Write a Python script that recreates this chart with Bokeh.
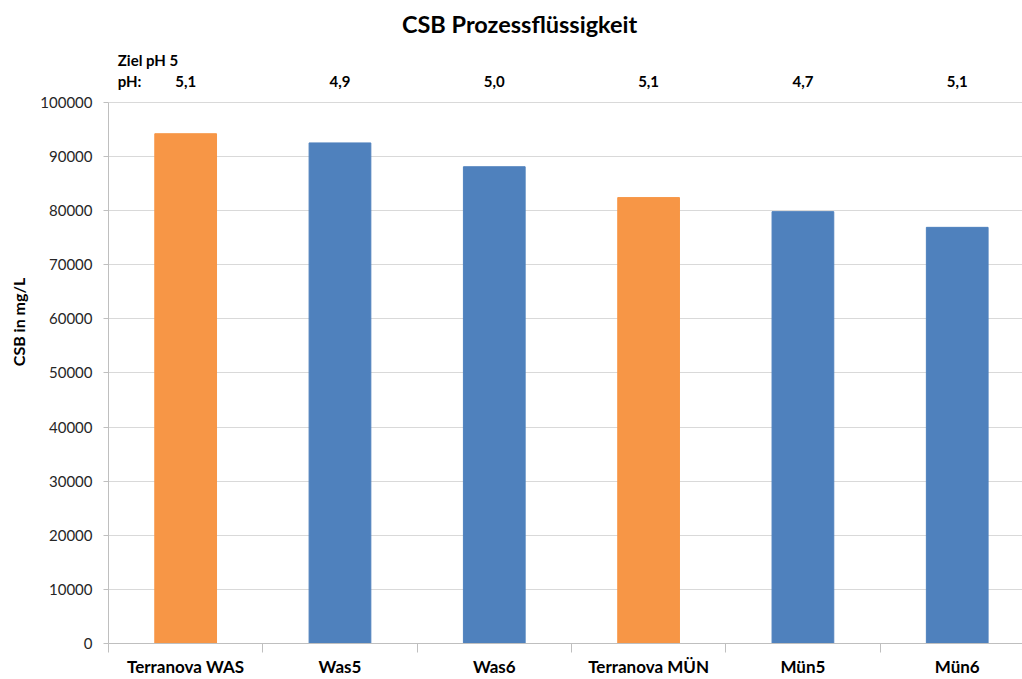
from bokeh.plotting import figure
from bokeh.models import Range1d, FixedTicker, ColumnDataSource, BasicTickFormatter
from bokeh.core.properties import value
from bokeh.embed import file_html
from bokeh.resources import INLINE

# Data
categories = ["Terranova WAS", "Was5", "Was6", "Terranova MÜN", "Mün5", "Mün6"]
csb_mg_l = [94200, 92500, 88100, 82400, 79800, 76900]
ph_values = ["5,1", "4,9", "5,0", "5,1", "4,7", "5,1"]
bar_colors = ["#F79646", "#4F81BD", "#4F81BD", "#F79646", "#4F81BD", "#4F81BD"]
y_ticks = list(range(0, 100001, 10000))
y_max = 100000

FONT = "Lato"
TEXT = "#262626"

centers = [i + 0.5 for i in range(len(categories))]
boundaries = list(range(len(categories)))

src = ColumnDataSource(dict(x=centers, top=csb_mg_l, color=bar_colors))

# the frame reaches the top of the canvas so the header texts can sit above
# the 100000 line; the axis itself stops at y_max
frame_h = 644
p = figure(width=1022, height=679, output_backend="svg", toolbar_location=None,
           x_range=Range1d(0, 5.923),
           y_range=Range1d(0, y_max * frame_h / (frame_h - 102)),
           min_border_left=108, min_border_right=0, min_border_top=0,
           min_border_bottom=0)
p.outline_line_color = None
p.background_fill_color = "white"
p.border_fill_color = "white"

p.vbar(x="x", top="top", width=0.4, color="color", source=src)

# y axis
p.yaxis.bounds = (0, y_max)
p.yaxis.ticker = FixedTicker(ticks=y_ticks)
p.yaxis.formatter = BasicTickFormatter(use_scientific=False)
p.yaxis.axis_line_color = "#bfbfbf"
p.yaxis.major_tick_line_color = "#bfbfbf"
p.yaxis.major_tick_out = 5
p.yaxis.major_tick_in = 0
p.yaxis.minor_tick_line_color = None
p.yaxis.major_label_text_font = FONT
p.yaxis.major_label_text_font_size = "15px"
p.yaxis.major_label_text_color = TEXT
p.yaxis.major_label_standoff = 11
p.yaxis.axis_label = "CSB in mg/L"
p.yaxis.axis_label_text_font = FONT
p.yaxis.axis_label_text_font_style = "bold"
p.yaxis.axis_label_text_font_size = "16px"
p.yaxis.axis_label_text_color = "black"
p.yaxis.axis_label_standoff = 9

# x axis: labels at bar centers, tick marks between categories
p.xaxis.ticker = FixedTicker(ticks=centers, minor_ticks=boundaries)
p.xaxis.major_label_overrides = {c: name for c, name in zip(centers, categories)}
p.xaxis.major_tick_line_color = None
p.xaxis.major_tick_out = 0
p.xaxis.minor_tick_line_color = "#bfbfbf"
p.xaxis.minor_tick_out = 9
p.xaxis.minor_tick_in = 0
p.xaxis.axis_line_color = "#bfbfbf"
p.xaxis.major_label_text_font = FONT
p.xaxis.major_label_text_font_style = "bold"
p.xaxis.major_label_text_font_size = "17px"
p.xaxis.major_label_text_color = "black"
p.xaxis.major_label_standoff = 3

p.xgrid.grid_line_color = None
p.ygrid.ticker = FixedTicker(ticks=y_ticks)
p.ygrid.grid_line_color = "#d9d9d9"

# title and pH annotations above the plot area
common = dict(text_baseline="middle", text_font=value(FONT),
              text_font_style="bold", text_color="black")
p.text(x=[2.664], y=[y_max], y_offset=-78, text=["CSB Prozessflüssigkeit"],
       text_align="center", text_font_size="23.5px", **common)
p.text(x=[0.06], y=[y_max], y_offset=-42, text=["Ziel pH 5"],
       text_align="left", text_font_size="15px", **common)
p.text(x=[0.06], y=[y_max], y_offset=-21, text=["pH:"],
       text_align="left", text_font_size="15px", **common)
p.text(x=centers, y=[y_max] * len(centers), y_offset=-21, text=ph_values,
       text_align="center", text_font_size="15px", **common)

open("out.html", "w").write(file_html(p, INLINE))
